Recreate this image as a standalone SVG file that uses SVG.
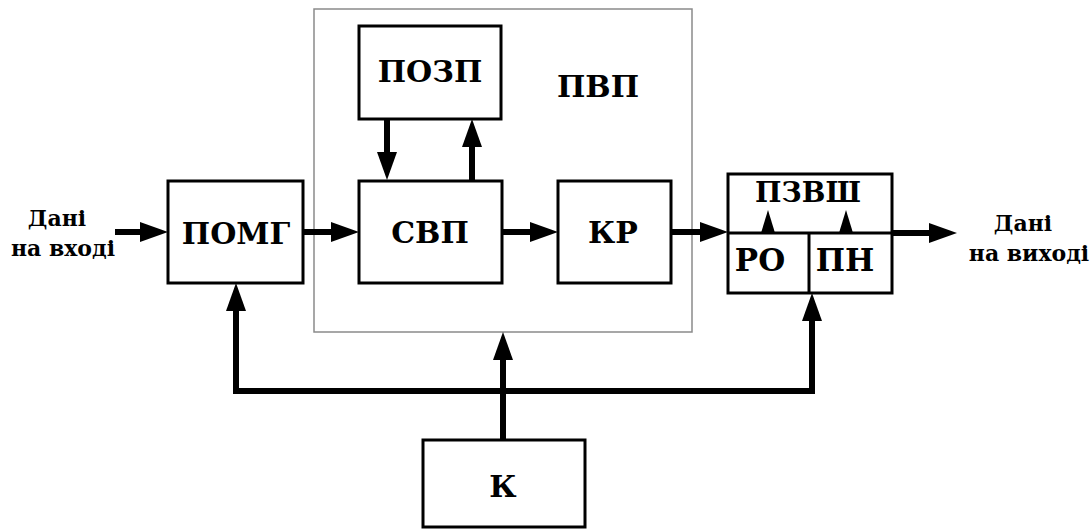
<svg xmlns="http://www.w3.org/2000/svg" width="1091" height="529" viewBox="0 0 1091 529">
  <style>
    .box { fill: #fff; stroke: #000; stroke-width: 3; }
    .frame { fill: none; stroke: #8a8a8a; stroke-width: 1.5; }
    .div { fill: none; stroke: #000; stroke-width: 3; }
    .wire { fill: none; stroke: #000; stroke-width: 6; }
    text { font-family: 'DejaVu Serif', serif; font-weight: bold; text-anchor: middle; fill: #000; }
    .lbl { font-size: 30px; }
    .sm { font-size: 28px; }
    .md { font-size: 31px; }
    .io { font-size: 22px; }
  </style>
  <defs>
    <marker id="head" markerUnits="userSpaceOnUse" markerWidth="30" markerHeight="22" refX="18" refY="10" orient="auto">
      <path d="M0,0 L28,10 L0,20 Z" fill="#000"/>
    </marker>
  </defs>
  <rect width="1091" height="529" fill="#fff"/>

  <!-- processing unit frame -->
  <g id="pvp">
    <rect class="frame" x="314" y="9" width="378" height="323"/>
    <text class="lbl" x="598" y="97">ПВП</text>
  </g>

  <g id="pomg">
    <rect class="box" x="168" y="181" width="135" height="102"/>
    <text class="lbl" x="236" y="244">ПОМГ</text>
  </g>
  <g id="pozp">
    <rect class="box" x="359" y="26" width="142" height="93"/>
    <text class="lbl" x="430" y="82">ПОЗП</text>
  </g>
  <g id="svp">
    <rect class="box" x="359" y="181" width="143" height="102"/>
    <text class="lbl" x="430" y="243">СВП</text>
  </g>
  <g id="kr">
    <rect class="box" x="558" y="181" width="113" height="102"/>
    <text class="lbl" x="613" y="243">КР</text>
  </g>
  <g id="pzvsh">
    <rect class="box" x="728" y="174" width="164" height="119"/>
    <line class="div" x1="728" y1="233" x2="892" y2="233"/>
    <line class="div" x1="809" y1="233" x2="809" y2="293"/>
    <text class="sm" x="808" y="202">ПЗВШ</text>
    <text class="md" x="760" y="271">РО</text>
    <text class="md" x="845" y="271">ПН</text>
    <polygon points="761,233 775,233 768,210" fill="#000"/>
    <polygon points="839,233 853,233 846,210" fill="#000"/>
  </g>
  <g id="k">
    <rect class="box" x="423" y="440" width="162" height="87"/>
    <text class="lbl" x="503" y="497">К</text>
  </g>

  <g id="io-labels">
    <text class="io" x="57" y="226">Дані</text>
    <text class="io" x="63" y="256">на вході</text>
    <text class="io" x="1023" y="231">Дані</text>
    <text class="io" x="1029" y="261">на виході</text>
  </g>

  <g id="connectors">
    <line class="wire" x1="115" y1="232" x2="158" y2="232" marker-end="url(#head)"/>
    <line class="wire" x1="303" y1="232" x2="349" y2="232" marker-end="url(#head)"/>
    <line class="wire" x1="502" y1="232" x2="548" y2="232" marker-end="url(#head)"/>
    <line class="wire" x1="671" y1="232" x2="718" y2="232" marker-end="url(#head)"/>
    <line class="wire" x1="892" y1="233" x2="947" y2="233" marker-end="url(#head)"/>
    <line class="wire" x1="387" y1="119" x2="387" y2="170" marker-end="url(#head)"/>
    <line class="wire" x1="472" y1="181" x2="472" y2="129" marker-end="url(#head)"/>
    <!-- control bus from К -->
    <line class="wire" x1="503" y1="440" x2="503" y2="342" marker-end="url(#head)"/>
    <polyline class="wire" points="503,391 236,391 236,293" marker-end="url(#head)"/>
    <polyline class="wire" points="503,391 812,391 812,303" marker-end="url(#head)"/>
  </g>
</svg>
